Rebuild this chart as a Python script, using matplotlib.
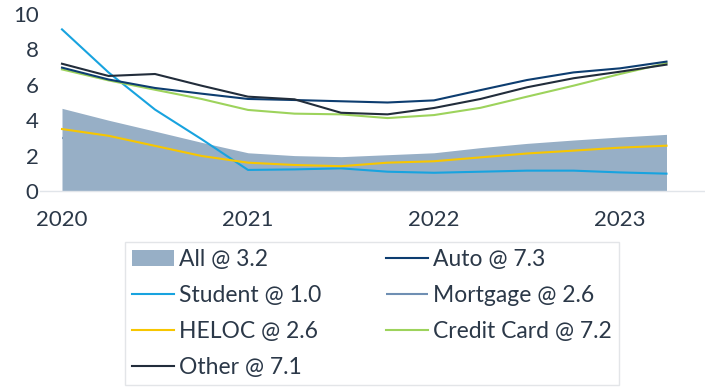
import matplotlib
matplotlib.use("Agg")
import matplotlib.pyplot as plt

plt.rcParams['font.family'] = ['Lato', 'DejaVu Sans']

# quarterly, 2020Q1 .. 2023Q2
quarters = [2020 + i * 0.25 for i in range(14)]

all_loans = [4.67, 4.0, 3.38, 2.75, 2.16, 2.0, 1.94, 2.05, 2.16, 2.45, 2.69, 2.88, 3.05, 3.2]
auto = [6.97, 6.3, 5.82, 5.5, 5.2, 5.14, 5.07, 5.0, 5.12, 5.7, 6.27, 6.7, 6.93, 7.31]
student = [9.13, 6.7, 4.6, 2.93, 1.19, 1.22, 1.28, 1.09, 1.03, 1.09, 1.15, 1.15, 1.05, 0.98]
mortgage = [3.0, 2.6, 2.2, 1.8, 1.5, 1.4, 1.3, 1.4, 1.5, 1.7, 1.9, 2.1, 2.4, 2.6]
heloc = [3.5, 3.12, 2.55, 1.98, 1.6, 1.47, 1.4, 1.6, 1.68, 1.9, 2.12, 2.28, 2.45, 2.56]
credit_card = [6.87, 6.25, 5.72, 5.2, 4.58, 4.37, 4.33, 4.12, 4.29, 4.7, 5.33, 5.95, 6.61, 7.22]
other = [7.19, 6.5, 6.61, 5.95, 5.33, 5.18, 4.42, 4.33, 4.69, 5.2, 5.86, 6.37, 6.74, 7.14]

labels = ["All @ 3.2", "Auto @ 7.3", "Student @ 1.0", "Mortgage @ 2.6",
          "HELOC @ 2.6", "Credit Card @ 7.2", "Other @ 7.1"]
year_ticks = [2020, 2021, 2022, 2023]
y_ticks = [0, 2, 4, 6, 8, 10]

text_col = "#2b3848"
fig = plt.figure(figsize=(7.05, 3.91), dpi=100)
ax = fig.add_axes([40 / 705, 1 - 191 / 391, 665 / 705, 177 / 391])

lw = 1.5
h_all = ax.fill_between(quarters, 0, all_loans, color="#97afc6", lw=0, zorder=2)
# mortgage line sits under the area, hidden like in the original
h_mort, = ax.plot(quarters, mortgage, color="#6f8fb3", lw=lw, zorder=1,
                  solid_capstyle="butt")
h_mort.set_clip_path(h_all.get_paths()[0], ax.transData)
h_stud, = ax.plot(quarters, student, color="#18a3df", lw=lw, zorder=3)
h_heloc, = ax.plot(quarters, heloc, color="#f7c600", lw=lw, zorder=3)
h_cc, = ax.plot(quarters, credit_card, color="#9dd35c", lw=lw, zorder=3)
h_auto, = ax.plot(quarters, auto, color="#0d3d70", lw=lw, zorder=4)
h_other, = ax.plot(quarters, other, color="#222d3b", lw=lw, zorder=4)

ax.set_xlim(2020 - 22 / 186, 2020 + 643 / 186)
ax.set_ylim(0, 10)
ax.set_xticks(year_ticks)
ax.set_xticklabels([str(y) for y in year_ticks])
ax.set_yticks(y_ticks)
ax.tick_params(axis='both', length=0, labelsize=16, colors=text_col)
ax.tick_params(axis='x', pad=14)
ax.tick_params(axis='y', pad=1)
for s in ["top", "right", "left"]:
    ax.spines[s].set_visible(False)
ax.spines["bottom"].set_color("#e1e5ea")
ax.spines["bottom"].set_linewidth(1)

handles = [h_all, h_stud, h_heloc, h_other, h_auto, h_mort, h_cc]
leg_labels = [labels[0], labels[2], labels[4], labels[6], labels[1], labels[3], labels[5]]
leg = fig.legend(handles, leg_labels, ncol=2, loc="upper left",
                 bbox_to_anchor=(125 / 705, 1 - 242 / 391), borderaxespad=0,
                 fontsize=16.5, frameon=True, fancybox=False, handlelength=1.83,
                 handletextpad=0.22, labelspacing=0.66, columnspacing=2.84,
                 borderpad=0.3)
leg.get_frame().set_edgecolor("#dcdfe3")
leg.get_frame().set_linewidth(1)
for t in leg.get_texts():
    t.set_color(text_col)

fig.savefig("out.png", dpi=100)
